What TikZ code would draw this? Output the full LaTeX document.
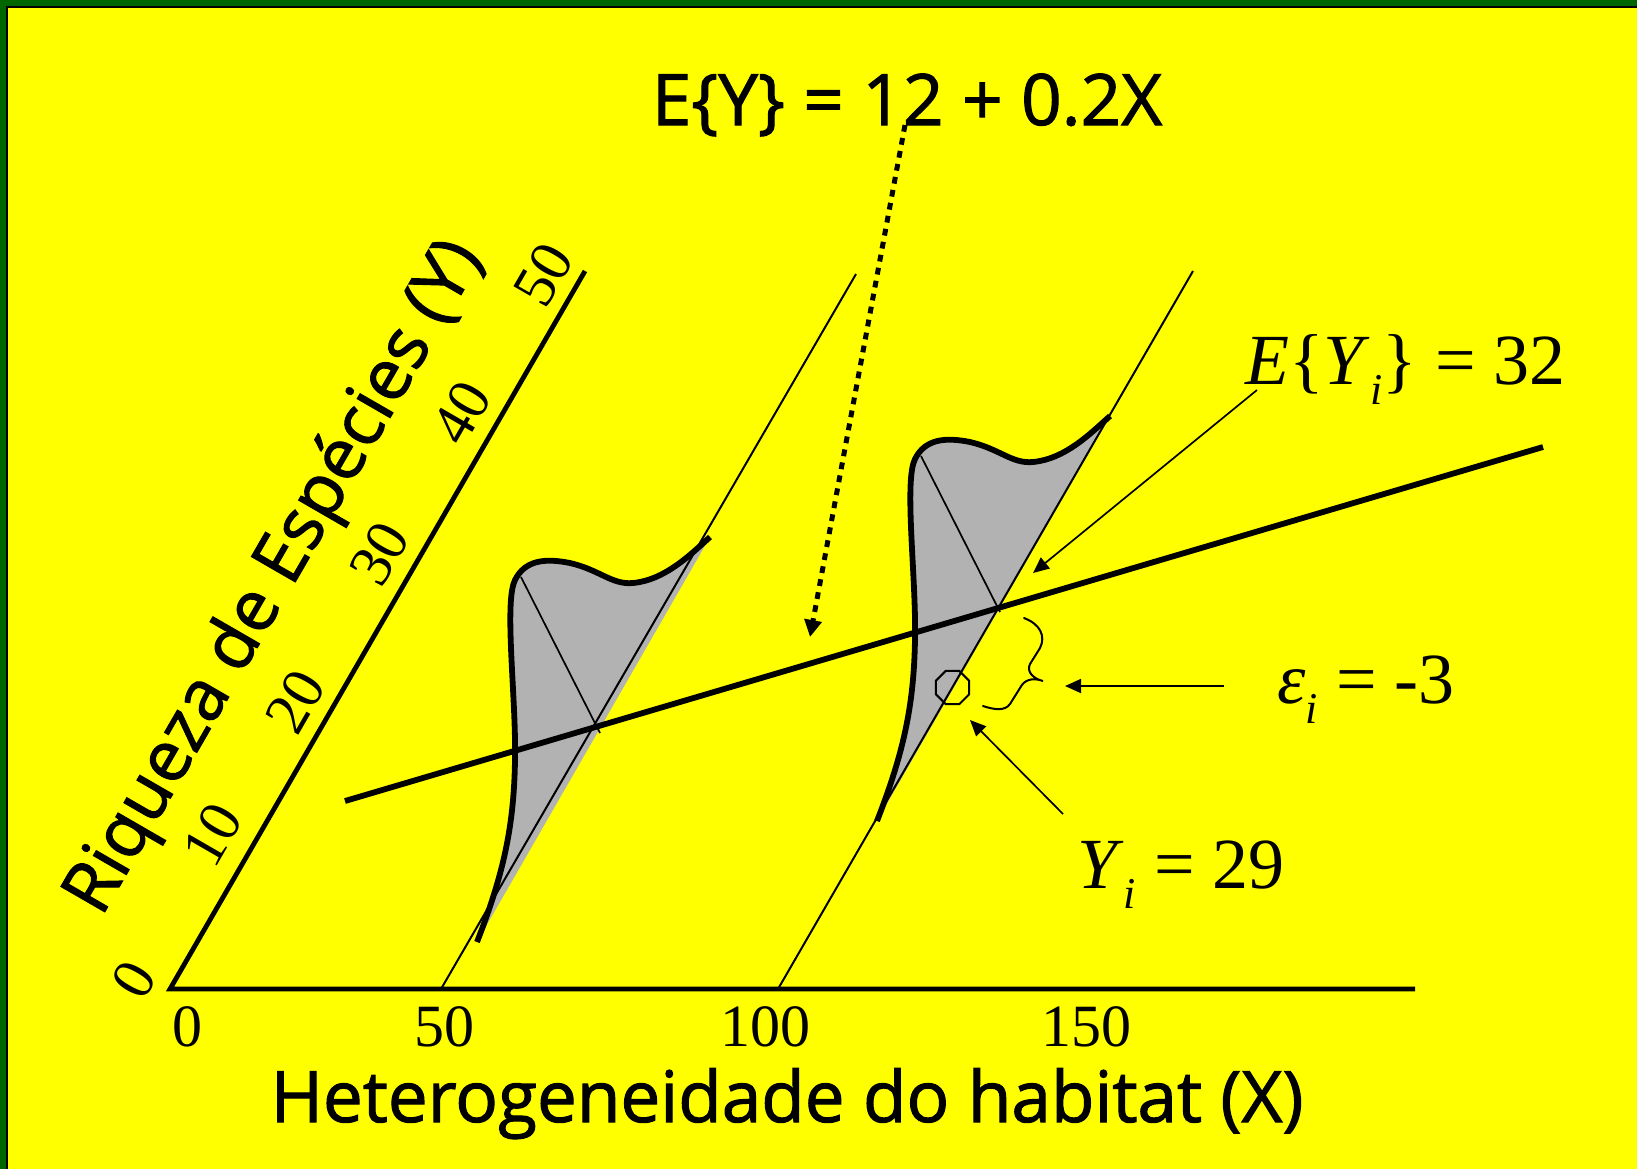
\documentclass[tikz,border=0pt]{standalone}
\usepackage{fontspec}
\setmainfont{Liberation Serif}
\newfontfamily\handfont[FakeBold=1.5]{Open Sans}
\usetikzlibrary{arrows.meta, shapes.geometric}
\definecolor{slideyellow}{RGB}{255,255,0}
\definecolor{slidegreen}{RGB}{0,102,0}
\definecolor{densgray}{RGB}{178,178,178}
\newcommand{\lowidx}[1]{\raisebox{-10pt}{\fontsize{22pt}{22pt}\selectfont\itshape #1}}
\newcommand{\denscurve}{(477,942) .. controls (505,870) and (516,820) .. (515,740)
  .. controls (514,680) and (505,600) .. (515,580)
  .. controls (525,560) and (545,558) .. (570,563)
  .. controls (600,570) and (612,585) .. (633,583)
  .. controls (665,580) and (690,555) .. (710,537)}

\begin{document}
\begin{tikzpicture}[
    x=0.5pt, y=-0.5pt,
    % Lines
    axisline/.style={line width=2.4pt},
    guideline/.style={line width=1pt},
    regline/.style={line width=2.9pt},
    densline/.style={line width=2.9pt, line join=round},
    densfill/.style={fill=densgray},
    meanline/.style={line width=0.85pt},
    % Arrows
    ptr/.style={-{Triangle[length=8pt, width=7pt]}, line width=0.85pt},
    dotptr/.style={-{Triangle[length=8.5pt, width=8.5pt]}, line width=2.5pt,
      dash pattern=on 3.4pt off 3.2pt},
    % Labels
    handlbl/.style={font=\handfont\fontsize{35.5pt}{35.5pt}\selectfont, inner sep=0pt},
    mathlbl/.style={font=\fontsize{36pt}{36pt}\selectfont, inner sep=0pt},
    ticklbl/.style={font=\fontsize{30pt}{30pt}\selectfont, inner sep=0pt}
  ]

  % ============ Slide background ============
  \useasboundingbox (0,0) rectangle (1637,1169);
  \fill[slideyellow] (0,0) rectangle (1637,1169);
  \fill[black] (0,0) rectangle (1637,7.5);
  \fill[black] (0,0) rectangle (7.5,1169);
  \fill[slidegreen] (0,0) rectangle (1637,5.5);
  \fill[slidegreen] (0,0) rectangle (5.5,1169);

  % ============ Reference points ============
  \coordinate (O) at (170,989);
  \coordinate (ytop) at (585,271);
  \coordinate (xend) at (1415,989);
  \coordinate (g1bot) at (441,989);
  \coordinate (g1top) at (856,274);
  \coordinate (g2bot) at (778,989);
  \coordinate (g2top) at (1193,271);
  \coordinate (regA) at (345,801);
  \coordinate (regB) at (1543,447);

  % ============ Densities (fill) ============
  \fill[densfill] \denscurve -- cycle;
  \begin{scope}[shift={(400,-121)}]
    \fill[densfill] \denscurve -- cycle;
  \end{scope}

  % ============ Axes and guide lines ============
  \draw[guideline] (g1bot) -- (g1top);
  \draw[guideline] (g2bot) -- (g2top);
  \draw[axisline] (ytop) -- (O) -- (xend);

  % ============ Densities (outline) ============
  \draw[densline] \denscurve;
  \draw[meanline] (521,577) -- (600,733);
  \begin{scope}[shift={(400,-121)}]
    \draw[densline] \denscurve;
    \draw[meanline] (521,577) -- (600,733);
  \end{scope}

  % ============ Regression line ============
  \draw[regline] (regA) -- (regB);

  % ============ Observation and residual ============
  \node[regular polygon, regular polygon sides=8, draw, line width=1pt,
    minimum size=17.9pt, inner sep=0pt] (obs) at (952.5,687.5) {};
  \draw[line width=1pt, line cap=round] (1024,618)
    .. controls (1040,624) and (1046,636) .. (1040,648) -- (1030,664)
    .. controls (1026,672) and (1034,679) .. (1043,681)
    .. controls (1032,677) and (1024,680) .. (1020,688) -- (1010,704)
    .. controls (1005,711) and (995,710) .. (983,706);

  % ============ Tick labels ============
  \node[ticklbl] (x0) at (187,1027) {0};
  \node[ticklbl] (x50) at (444,1027) {50};
  \node[ticklbl] (x100) at (765,1027) {100};
  \node[ticklbl] (x150) at (1086,1027) {150};
  \node[ticklbl, rotate=60] (y0) at (134,980) {0};
  \node[ticklbl, rotate=60] (y10) at (212,835) {10};
  \node[ticklbl, rotate=60] (y20) at (295,702) {20};
  \node[ticklbl, rotate=60] (y30) at (379,554) {30};
  \node[ticklbl, rotate=60] (y40) at (461,413) {40};
  \node[ticklbl, rotate=60] (y50) at (543,275) {50};

  % ============ Axis titles ============
  \node[handlbl, anchor=base] (xtitle) at (787,1122) {Heterogeneidade do habitat (X)};
  \node[handlbl, rotate=60] (ytitle) at (276,578) {Riqueza de Espécies (Y)};

  % ============ Equation and annotations ============
  \node[handlbl, anchor=base] (eqn) at (907,125) {E\{Y\} = 12 + 0.2X};
  \node[mathlbl, anchor=base west] (eyilbl) at (1245,384)
    {\textit{E}\{\textit{Y}\lowidx{i}\} = 32};
  \node[mathlbl, anchor=base west] (epslbl) at (1277,703) {\textit{ε}\lowidx{i} = -3};
  \node[mathlbl, anchor=base west] (yilbl) at (1077,888) {\textit{Y}\lowidx{i} = 29};

  % ============ Pointers ============
  \coordinate (eqnfrom) at (905,125);
  \coordinate (eqnto) at (810,637);
  \draw[dotptr] (eqnfrom) -- (eqnto);
  \coordinate (eyifrom) at (1257,390);
  \coordinate (eyito) at (1033,573);
  \draw[ptr] (eyifrom) -- (eyito);
  \coordinate (epsfrom) at (1224,686);
  \coordinate (epsto) at (1065,686);
  \draw[ptr] (epsfrom) -- (epsto);
  \coordinate (yifrom) at (1063,814);
  \coordinate (yito) at (970,720);
  \draw[ptr] (yifrom) -- (yito);

\end{tikzpicture}
\end{document}
